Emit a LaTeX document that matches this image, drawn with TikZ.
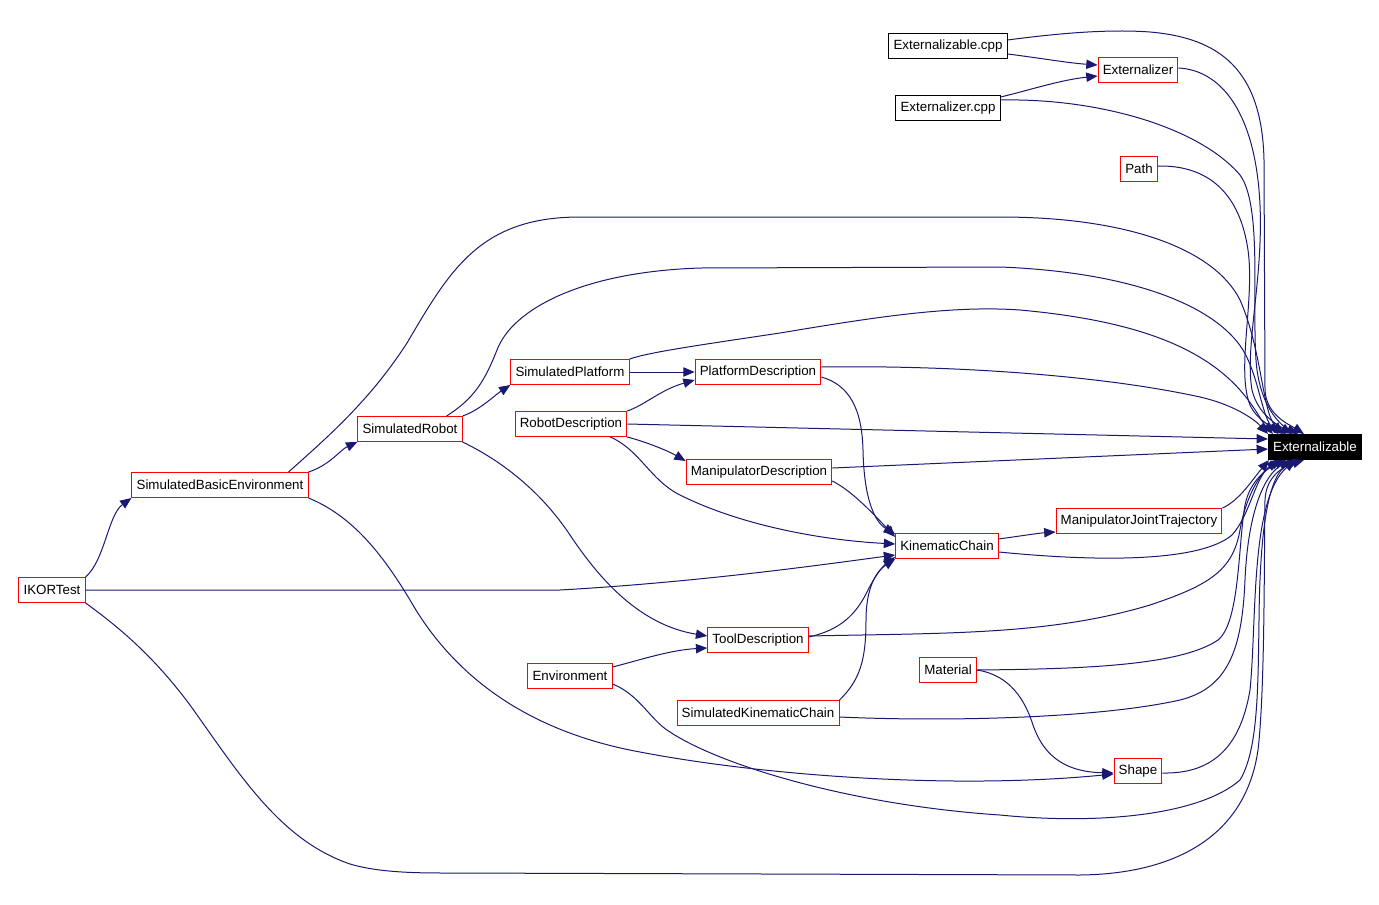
\documentclass[tikz,border=0pt]{standalone}
\usepackage{fontspec}
\setmainfont{Liberation Sans}
\usepackage{tikz}
\usetikzlibrary{arrows.meta, calc}
\definecolor{edgeblue}{RGB}{25,25,112}
\definecolor{boxred}{RGB}{255,0,0}

\begin{document}
\begin{tikzpicture}[x=0.75pt, y=-0.75pt,
  cls/.style={draw=boxred, fill=white, line width=0.75pt, inner xsep=3.5pt, inner ysep=0pt,
    minimum height=18.75pt, font=\fontsize{10}{12}\selectfont},
  src/.style={cls, draw=black},
  hub/.style={cls, draw=black, fill=black, text=white},
  dep/.style={draw=edgeblue, line width=0.75pt, -{Triangle[length=8.5pt,width=7pt]}}]
  \useasboundingbox (0,0) rectangle (1379,904);

  % classes
  \foreach \n/\x/\y/\t in {extr/1138/70/Externalizer, path/1139/169/Path, ikor/52/590/IKORTest,
      sbe/220/485/SimulatedBasicEnvironment, srob/410/429/SimulatedRobot,
      splat/570/372/SimulatedPlatform, platdesc/758/372/PlatformDescription,
      robdesc/571/424/RobotDescription, mandesc/759/472/ManipulatorDescription,
      kinch/947/546/KinematicChain, mjt/1139/521/ManipulatorJointTrajectory,
      tooldesc/758/640/ToolDescription, env/570/676/Environment,
      skc/758/713/SimulatedKinematicChain, mat/948/670/Material, shp/1138/771/Shape}
    \node[cls] (\n) at (\x,\y) {\t};
  % files
  \node[src] (extcpp) at (948,46) {Externalizable.cpp};
  \node[src] (extrcpp) at (948,108) {Externalizer.cpp};
  \node[hub] (ext) at (1315,447) {Externalizable};

  % top group
  \draw[dep] ($(extcpp.east)+(0,8)$) .. controls (1040,58) and (1068,63) .. ($(extr.west)+(0,-5)$);
  \draw[dep] ($(extcpp.east)+(0,-6)$) .. controls (1060,33) and (1110,29) .. (1150,32)
    .. controls (1220,38) and (1262,70) .. (1264,160) -- (1265,390)
    .. controls (1266,415) and (1290,425) .. ($(ext.north west)+(36,0)$);
  \draw[dep] ($(extrcpp.east)+(0,-11)$) .. controls (1030,90) and (1060,80) .. ($(extr.west)+(0,6)$);
  \draw[dep] ($(extrcpp.east)+(0,-8)$) .. controls (1100,98) and (1200,128) .. (1240,175)
    .. controls (1262,205) and (1252,300) .. (1256,360)
    .. controls (1259,405) and (1280,425) .. ($(ext.north west)+(30,0)$);
  \draw[dep] ($(extr.east)+(0,-2)$) .. controls (1220,70) and (1252,110) .. (1259,190)
    .. controls (1266,270) and (1244,345) .. (1252,390)
    .. controls (1258,415) and (1278,425) .. ($(ext.north west)+(24,0)$);
  \draw[dep] ($(path.east)+(0,-3)$) .. controls (1210,165) and (1240,195) .. (1248,250)
    .. controls (1255,300) and (1236,370) .. (1250,405)
    .. controls (1258,422) and (1275,428) .. ($(ext.north west)+(18,0)$);

  % left side
  \draw[dep] (ikor.north east) .. controls (105,560) and (108,515) .. (sbe.south west);
  \draw[dep] (ikor.east) -- (560,590) .. controls (700,582) and (820,565) .. ($(kinch.west)+(0,9)$);
  \draw[dep] (ikor.south east) .. controls (130,635) and (160,665) .. (190,705)
    .. controls (240,775) and (280,840) .. (350,864) .. controls (380,873) and (420,873) .. (450,873)
    -- (1080,875) .. controls (1170,874) and (1245,840) .. (1258,750)
    .. controls (1265,690) and (1264,560) .. (1265,500)
    .. controls (1266,475) and (1285,466) .. ($(ext.south west)+(36,0)$);
  \draw[dep] ($(sbe.north east)+(-20,0)$) .. controls (330,435) and (370,400) .. (407,343)
    .. controls (450,270) and (480,217) .. (580,217) -- (1000,217)
    .. controls (1130,217) and (1215,250) .. (1240,300)
    .. controls (1262,350) and (1262,410) .. ($(ext.north west)+(14,0)$);
  \draw[dep] (sbe.north east) .. controls (330,465) and (340,450) .. (srob.south west);
  \draw[dep] (sbe.south east) .. controls (350,515) and (380,550) .. (410,600)
    .. controls (450,670) and (520,730) .. (640,752)
    .. controls (760,775) and (950,790) .. ($(shp.west)+(0,3)$);
  \draw[dep] (srob.north east) .. controls (480,410) and (495,395) .. (splat.south west);
  \draw[dep] ($(srob.north east)+(-16,0)$) .. controls (475,398) and (485,380) .. (497,350)
    .. controls (512,310) and (580,272) .. (700,268) -- (1000,267)
    .. controls (1130,272) and (1215,305) .. (1243,350)
    .. controls (1258,375) and (1262,415) .. ($(ext.north west)+(10,0)$);
  \draw[dep] (srob.south east) .. controls (500,460) and (540,490) .. (570,535)
    .. controls (600,580) and (640,625) .. ($(tooldesc.west)+(0,-4)$);

  % middle
  \draw[dep] (splat.east) -- (platdesc.west);
  \draw[dep] (splat.north east) .. controls (650,352) and (700,345) .. (780,333)
    .. controls (870,318) and (950,305) .. (1020,310)
    .. controls (1130,320) and (1200,345) .. (1240,390)
    .. controls (1255,407) and (1262,422) .. ($(ext.north west)+(5,0)$);
  \draw[dep] ($(platdesc.east)+(0,-5)$) .. controls (950,365) and (1100,375) .. (1200,397)
    .. controls (1235,405) and (1255,420) .. (ext.north west);
  \draw[dep] ($(platdesc.east)+(0,5)$) .. controls (850,385) and (862,410) .. (863,450)
    .. controls (864,500) and (875,522) .. ($(kinch.west)+(0,-12)$);
  \draw[dep] (robdesc.north east) .. controls (645,405) and (660,390) .. ($(platdesc.west)+(0,8)$);
  \draw[dep] (robdesc.east) -- ($(ext.west)+(0,-8)$);
  \draw[dep] (robdesc.south east) .. controls (650,443) and (670,452) .. ($(mandesc.west)+(0,-11)$);
  \draw[dep] ($(robdesc.south east)+(-17,0)$) .. controls (640,450) and (650,480) .. (680,495)
    .. controls (740,525) and (820,540) .. ($(kinch.west)+(0,-2)$);
  \draw[dep] ($(mandesc.east)+(0,-4)$) -- ($(ext.west)+(0,2)$);
  \draw[dep] ($(mandesc.east)+(0,9)$) .. controls (850,490) and (868,508) .. ($(kinch.west)+(0,-9)$);
  \draw[dep] ($(kinch.east)+(0,-7)$) .. controls (1020,536) and (1040,533) .. ($(mjt.west)+(0,11)$);
  \draw[dep] ($(kinch.east)+(0,6)$) .. controls (1100,562) and (1200,562) .. (1232,535)
    .. controls (1250,515) and (1255,478) .. ($(ext.south west)+(10,0)$);
  \draw[dep] (mjt.north east) .. controls (1240,500) and (1252,480) .. ($(ext.south west)+(1,0)$);

  % bottom group
  \draw[dep] ($(tooldesc.east)+(0,-3)$) .. controls (840,630) and (856,615) .. (868,590)
    .. controls (876,574) and (884,565) .. ($(kinch.west)+(0,11)$);
  \draw[dep] ($(tooldesc.east)+(0,-4)$) .. controls (950,633) and (1050,635) .. (1150,605)
    .. controls (1210,585) and (1233,570) .. (1240,530)
    .. controls (1246,495) and (1262,470) .. ($(ext.south west)+(14,0)$);
  \draw[dep] ($(env.east)+(0,-9)$) .. controls (640,660) and (670,650) .. ($(tooldesc.west)+(0,8)$);
  \draw[dep] ($(env.east)+(0,8)$) .. controls (640,695) and (650,720) .. (670,732)
    .. controls (720,765) and (850,805) .. (1000,815)
    .. controls (1100,825) and (1200,815) .. (1240,780)
    .. controls (1258,750) and (1258,690) .. (1259,620)
    .. controls (1260,520) and (1270,472) .. ($(ext.south west)+(31,0)$);
  \draw[dep] (skc.north east) .. controls (860,680) and (866,660) .. (866,620)
    .. controls (866,590) and (875,572) .. ($(kinch.west)+(0,13)$);
  \draw[dep] ($(skc.east)+(0,4)$) .. controls (950,722) and (1100,718) .. (1180,700)
    .. controls (1228,688) and (1242,650) .. (1245,580)
    .. controls (1248,510) and (1265,475) .. ($(ext.south west)+(22,0)$);
  \draw[dep] (mat.east) .. controls (1080,669) and (1180,666) .. (1218,640)
    .. controls (1240,622) and (1238,545) .. (1245,505)
    .. controls (1250,480) and (1268,468) .. ($(ext.south west)+(18,0)$);
  \draw[dep] (mat.east) .. controls (1010,675) and (1025,700) .. (1033,725)
    .. controls (1045,760) and (1070,772) .. ($(shp.west)+(0,2)$);
  \draw[dep] ($(shp.east)+(0,2)$) .. controls (1210,774) and (1240,750) .. (1250,690)
    .. controls (1257,620) and (1250,500) .. ($(ext.south west)+(27,0)$);
\end{tikzpicture}
\end{document}
